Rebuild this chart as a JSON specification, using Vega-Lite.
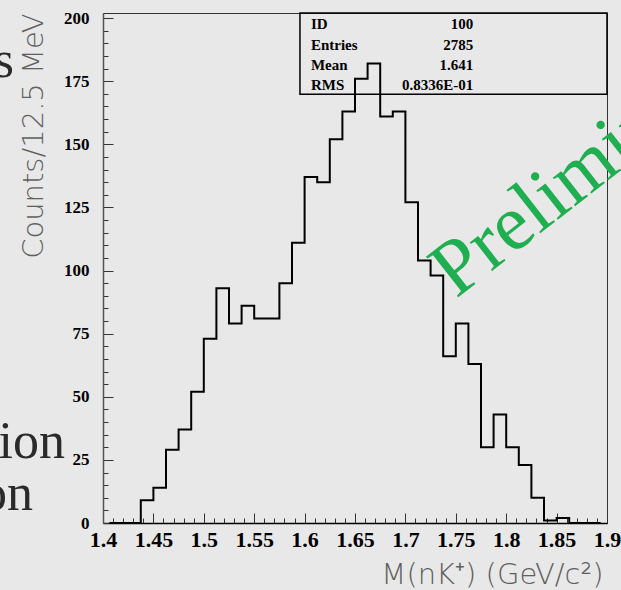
{
  "$schema": "https://vega.github.io/schema/vega-lite/v6.json",
  "width": 504,
  "height": 510,
  "autosize": {"type": "none"},
  "padding": {"left": 103, "top": 13, "right": 14, "bottom": 67},
  "background": "#e8e8e8",
  "config": {
    "view": {"stroke": "#333333", "strokeWidth": 1},
    "axis": {"grid": false}
  },
  "datasets": {
    "hist": [
      {"m": 1.40625, "n": 0}, {"m": 1.41875, "n": 0}, {"m": 1.43125, "n": 0}, {"m": 1.44375, "n": 9},
      {"m": 1.45625, "n": 14}, {"m": 1.46875, "n": 29}, {"m": 1.48125, "n": 37}, {"m": 1.49375, "n": 52},
      {"m": 1.50625, "n": 73}, {"m": 1.51875, "n": 93}, {"m": 1.53125, "n": 79}, {"m": 1.54375, "n": 86},
      {"m": 1.55625, "n": 81}, {"m": 1.56875, "n": 81}, {"m": 1.58125, "n": 95}, {"m": 1.59375, "n": 111},
      {"m": 1.60625, "n": 137}, {"m": 1.61875, "n": 135}, {"m": 1.63125, "n": 152}, {"m": 1.64375, "n": 163},
      {"m": 1.65625, "n": 176}, {"m": 1.66875, "n": 182}, {"m": 1.68125, "n": 161}, {"m": 1.69375, "n": 163},
      {"m": 1.70625, "n": 127}, {"m": 1.71875, "n": 104}, {"m": 1.73125, "n": 98}, {"m": 1.74375, "n": 66},
      {"m": 1.75625, "n": 79}, {"m": 1.76875, "n": 63}, {"m": 1.78125, "n": 30}, {"m": 1.79375, "n": 43},
      {"m": 1.80625, "n": 30}, {"m": 1.81875, "n": 23}, {"m": 1.83125, "n": 10}, {"m": 1.84375, "n": 1},
      {"m": 1.85625, "n": 2}, {"m": 1.86875, "n": 0}, {"m": 1.88125, "n": 0}, {"m": 1.89375, "n": 0}
    ],
    "stats": [
      {"stat": "ID", "value": "100"},
      {"stat": "Entries", "value": "2785"},
      {"stat": "Mean", "value": "1.641"},
      {"stat": "RMS", "value": "0.8336E-01"}
    ]
  },
  "resolve": {"axis": {"x": "independent", "y": "independent"}},
  "layer": [
    {
      "data": {"name": "hist"},
      "mark": {"type": "line", "opacity": 0},
      "encoding": {
        "x": {
          "field": "m", "type": "quantitative",
          "scale": {"domain": [1.4, 1.9], "nice": false, "zero": false},
          "axis": {
            "orient": "bottom", "title": null, "labels": false, "domain": false,
            "tickSize": -5, "tickColor": "#333333", "tickWidth": 1,
            "values": [1.4,1.41,1.42,1.43,1.44,1.45,1.46,1.47,1.48,1.49,1.5,1.51,1.52,1.53,1.54,1.55,1.56,1.57,1.58,1.59,1.6,1.61,1.62,1.63,1.64,1.65,1.66,1.67,1.68,1.69,1.7,1.71,1.72,1.73,1.74,1.75,1.76,1.77,1.78,1.79,1.8,1.81,1.82,1.83,1.84,1.85,1.86,1.87,1.88,1.89,1.9]
          }
        },
        "y": {
          "field": "n", "type": "quantitative",
          "scale": {"domain": [0, 202], "nice": false},
          "axis": {
            "orient": "left", "title": null, "labels": false, "domain": false,
            "tickSize": -5, "tickColor": "#333333", "tickWidth": 1,
            "values": [0,5,10,15,20,25,30,35,40,45,50,55,60,65,70,75,80,85,90,95,100,105,110,115,120,125,130,135,140,145,150,155,160,165,170,175,180,185,190,195,200]
          }
        }
      }
    },
    {
      "data": {"values": [{"box": "stats"}]},
      "mark": {"type": "rect", "fill": null, "fillOpacity": 0, "stroke": "#000000", "strokeWidth": 1.5},
      "encoding": {
        "x": {"datum": 1.5954, "type": "quantitative", "axis": null},
        "x2": {"datum": 1.9},
        "y": {"datum": 169.8, "type": "quantitative", "axis": null},
        "y2": {"datum": 202}
      }
    },
    {
      "data": {"name": "hist"},
      "mark": {"type": "line", "interpolate": "step", "stroke": "#000000", "strokeWidth": 2},
      "encoding": {
        "x": {
          "field": "m", "type": "quantitative",
          "axis": {
            "orient": "bottom",
            "values": [1.4, 1.45, 1.5, 1.55, 1.6, 1.65, 1.7, 1.75, 1.8, 1.85, 1.9],
            "format": ".2~f",
            "tickSize": -10, "tickColor": "#333333", "tickWidth": 1,
            "domainColor": "#000000", "domainWidth": 1.5,
            "labelPadding": 16, "labelFont": "Liberation Serif", "labelFontWeight": "bold",
            "labelFontSize": 22, "labelColor": "#000000", "labelFlush": false, "labelOverlap": false,
            "title": "M(nK⁺) (GeV/c²)",
            "titleFont": "DejaVu Sans", "titleFontWeight": 200, "titleFontSize": 29, "titleColor": "#606060",
            "titleAlign": "right", "titleAnchor": "end", "titleBaseline": "alphabetic",
            "titleX": 500, "titleY": 60
          }
        },
        "y": {
          "field": "n", "type": "quantitative",
          "axis": {
            "orient": "left",
            "values": [0, 25, 50, 75, 100, 125, 150, 175, 200],
            "tickSize": -10, "tickColor": "#333333", "tickWidth": 1,
            "domainColor": "#555555", "domainWidth": 1.5,
            "labelPadding": 24, "labelFont": "Liberation Serif", "labelFontWeight": "bold",
            "labelFontSize": 17, "labelColor": "#000000", "labelFlush": false, "labelOverlap": false,
            "title": "Counts/12.5 MeV",
            "titleFont": "DejaVu Sans", "titleFontWeight": 200, "titleFontSize": 29, "titleColor": "#606060",
            "titleAngle": 270, "titleAlign": "right", "titleAnchor": "end", "titleBaseline": "alphabetic",
            "titleX": -61, "titleY": 0
          }
        }
      }
    },
    {
      "data": {"name": "stats"},
      "mark": {"type": "text", "align": "left", "baseline": "alphabetic", "font": "Liberation Serif", "fontWeight": "bold", "fontSize": 15, "color": "#000000"},
      "encoding": {
        "x": {"datum": 1.6063, "type": "quantitative", "axis": null},
        "y": {"datum": 202, "type": "quantitative", "axis": null},
        "yOffset": {"field": "stat", "type": "nominal", "scale": {"type": "point", "domain": ["ID", "Entries", "Mean", "RMS"], "range": [16.3, 77], "padding": 0}},
        "text": {"field": "stat"}
      }
    },
    {
      "data": {"name": "stats"},
      "mark": {"type": "text", "align": "right", "baseline": "alphabetic", "font": "Liberation Serif", "fontWeight": "bold", "fontSize": 15, "color": "#000000"},
      "encoding": {
        "x": {"datum": 1.7674, "type": "quantitative", "axis": null},
        "y": {"datum": 202, "type": "quantitative", "axis": null},
        "yOffset": {"field": "stat", "type": "nominal", "scale": {"type": "point", "domain": ["ID", "Entries", "Mean", "RMS"], "range": [16.3, 77], "padding": 0}},
        "text": {"field": "value"}
      }
    },
    {
      "data": {"values": [{"label": "Preliminary"}]},
      "mark": {"type": "text", "align": "left", "baseline": "alphabetic", "angle": -38, "font": "Liberation Serif", "fontSize": 79, "color": "#1fae50"},
      "encoding": {
        "x": {"datum": 1.7503, "type": "quantitative", "axis": null},
        "y": {"datum": 88.7, "type": "quantitative", "axis": null},
        "text": {"field": "label"}
      }
    },
    {
      "data": {"values": [{"frag": "s"}]},
      "mark": {"type": "text", "align": "right", "baseline": "alphabetic", "font": "Liberation Serif", "fontSize": 52, "color": "#2a2a2a"},
      "encoding": {
        "x": {"datum": 1.3117, "type": "quantitative", "axis": null},
        "y": {"datum": 176.6, "type": "quantitative", "axis": null},
        "text": {"field": "frag"}
      }
    },
    {
      "data": {"values": [{"frag": "tion"}]},
      "mark": {"type": "text", "align": "right", "baseline": "alphabetic", "font": "Liberation Serif", "fontSize": 52, "color": "#2a2a2a"},
      "encoding": {
        "x": {"datum": 1.3623, "type": "quantitative", "axis": null},
        "y": {"datum": 25.7, "type": "quantitative", "axis": null},
        "text": {"field": "frag"}
      }
    },
    {
      "data": {"values": [{"frag": "on"}]},
      "mark": {"type": "text", "align": "right", "baseline": "alphabetic", "font": "Liberation Serif", "fontSize": 52, "color": "#2a2a2a"},
      "encoding": {
        "x": {"datum": 1.3306, "type": "quantitative", "axis": null},
        "y": {"datum": 5.1, "type": "quantitative", "axis": null},
        "text": {"field": "frag"}
      }
    }
  ]
}
